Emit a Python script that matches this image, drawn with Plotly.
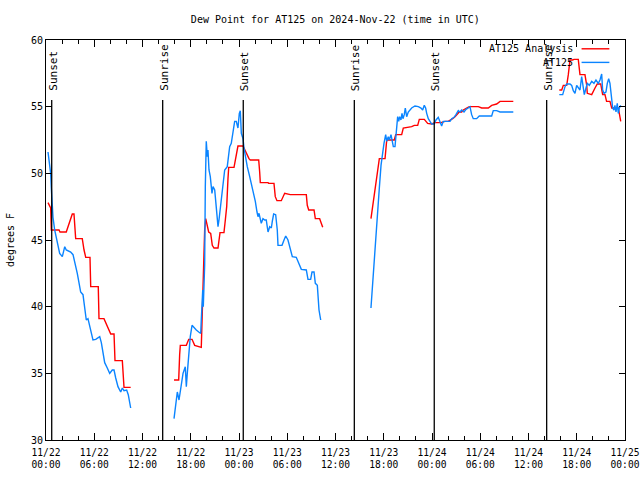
import plotly.graph_objects as go
import pandas as pd

BASE = "2024-11-22 00:00"
TITLE = "Dew Point for AT125 on 2024-Nov-22 (time in UTC)"

# ---- AT125 Analysis (red) : hours since 2024-11-22 00:00 UTC, dew point degF
ana_h1 = [0.25, 0.58, 0.66, 1.62, 1.74, 2.52, 3.27, 3.48, 3.69, 4.51, 4.73, 4.94, 5.47, 5.56, 6.50, 6.59,
          7.21, 7.42, 7.83, 8.05, 8.46, 8.58, 9.49, 9.70, 10.53]
ana_v1 = [47.8, 47.4, 45.75, 45.75, 45.6, 45.6, 46.95, 46.95, 45.1, 45.1, 44.25, 43.7, 43.7, 41.5, 41.5, 39.1,
          39.1, 38.8, 38.25, 37.95, 37.95, 35.95, 35.95, 33.95, 33.95]
ana_h2 = [15.92, 16.50, 16.62, 16.70, 17.45, 17.75, 18.16, 18.49, 19.31, 19.40, 19.56, 19.73, 19.86, 20.02,
          20.23, 20.48, 20.68, 20.89, 21.39, 21.64, 22.13, 22.30, 22.47, 22.63, 22.72, 23.38, 23.66, 23.87,
          24.50, 24.71, 24.91, 25.24, 25.40, 26.45, 26.57, 26.65, 27.61, 27.69, 28.35, 28.51, 28.72, 29.26,
          29.68, 30.38, 32.37, 32.49, 32.67, 33.33, 33.49, 34.03, 34.23, 34.41]
ana_v2 = [34.5, 34.5, 36.4, 37.1, 37.1, 37.55, 37.55, 37.1, 36.95, 39.0, 43.4, 45.75, 46.6, 46.25,
          45.6, 45.5, 44.6, 44.4, 44.4, 45.55, 45.55, 46.5, 47.5, 49.6, 50.45, 50.45, 51.4, 52.05,
          52.05, 51.75, 51.5, 51.1, 51.0, 51.0, 50.1, 49.3, 49.3, 49.25, 49.25, 48.25, 47.95, 47.95,
          48.5, 48.4, 48.4, 47.6, 47.25, 47.25, 46.6, 46.6, 46.25, 45.95]
ana_h3 = [40.41, 40.57, 40.70, 40.91, 41.13, 41.32, 41.45, 42.16, 42.24, 42.37, 43.31, 43.49, 44.23, 44.43,
          45.47, 45.80, 46.22, 46.42, 47.04, 47.46, 47.96, 48.37, 49.12, 49.61, 50.02, 50.32, 50.57, 50.86,
          51.14, 51.39, 51.69, 51.89, 52.31, 52.64, 53.76, 54.18, 55.00, 55.42, 56.04, 56.46, 58.11]
ana_v3 = [46.6, 47.25, 47.9, 48.75, 49.5, 50.6, 51.1, 51.1, 51.9, 52.5, 52.5, 52.9, 52.9, 53.4,
          53.5, 53.6, 53.6, 54.05, 54.05, 53.75, 53.7, 53.8, 53.8, 53.9, 53.9, 54.0, 54.1, 54.25,
          54.4, 54.6, 54.6, 54.75, 54.9, 55.0, 55.0, 54.9, 54.9, 55.1, 55.2, 55.4, 55.4]
ana_h4 = [63.83, 64.13, 64.33, 64.75, 64.95, 65.16, 65.49, 65.66, 66.19, 66.40, 67.02, 67.24, 67.31, 67.86,
          68.27, 68.55, 68.98, 69.22, 69.51, 69.71, 70.13, 70.35, 71.17, 71.36, 71.47]
ana_v4 = [56.25, 56.25, 56.6, 56.6, 57.4, 58.5, 58.5, 58.55, 58.55, 57.4, 57.4, 56.6, 56.0, 55.9,
          56.4, 56.7, 56.7, 55.9, 55.9, 55.4, 55.4, 54.9, 54.9, 54.4, 53.9]

# ---- AT125 observations (blue)
obs_h1 = [0.25, 0.58, 0.66, 0.87, 1.08, 1.28, 1.49, 1.70, 2.03, 2.33, 2.52, 3.07, 3.36, 3.69, 3.89, 4.10,
          4.31, 4.60, 4.81, 5.01, 5.22, 5.43, 5.63, 5.84, 6.18, 6.68, 6.88, 7.09, 7.30, 7.62, 7.92, 8.24,
          8.46, 8.67, 8.95, 9.29, 9.49, 9.70, 10.03, 10.23, 10.45, 10.53]
obs_v1 = [51.6, 50.0, 48.9, 46.7, 45.75, 45.2, 44.5, 44.0, 43.75, 44.5, 44.25, 44.1, 43.9, 43.1, 42.5, 41.8,
          41.1, 40.9, 39.9, 39.0, 39.1, 38.5, 38.0, 37.5, 37.55, 37.75, 37.3, 36.5, 35.8, 35.4, 35.0, 35.25,
          35.25, 34.65, 34.0, 33.6, 33.9, 33.7, 33.75, 33.4, 32.8, 32.4]
obs_h2 = [15.92, 16.08, 16.33, 16.54, 16.75, 17.04, 17.32, 17.45, 17.57, 17.75, 17.94, 18.16, 18.40, 18.69,
          18.99, 19.24, 19.31, 19.40, 19.49, 19.56, 19.65, 19.73, 19.81, 19.93, 20.06, 20.14, 20.27, 20.43,
          20.64, 20.77, 20.98, 21.18, 21.39, 21.51, 21.72, 21.92, 22.22, 22.54, 22.84, 23.04, 23.25, 23.46,
          23.66, 23.87, 24.04, 24.16, 24.29, 24.50, 24.62, 24.78, 25.03, 25.33, 25.62, 25.86, 26.03, 26.24,
          26.36, 26.49, 26.65, 26.77, 26.98, 27.20, 27.39, 27.61, 27.82, 28.02, 28.14, 28.31, 28.56, 28.76,
          28.85, 29.35, 29.60, 29.81, 30.09, 30.38, 30.63, 31.12, 31.34, 31.75, 32.37, 32.58, 32.91, 33.08,
          33.33, 33.49, 33.74, 33.95, 34.16]
obs_v2 = [31.6, 32.6, 33.6, 33.0, 33.75, 35.0, 35.5, 34.0, 35.0, 36.5, 37.75, 38.6, 38.4, 38.25,
          38.1, 38.0, 39.0, 40.25, 41.25, 40.0, 42.25, 43.1, 49.0, 52.4, 51.25, 51.75, 50.25, 49.75,
          48.5, 49.0, 48.75, 47.5, 46.0, 46.5, 47.75, 49.0, 50.25, 50.5, 52.0, 52.25, 53.25, 53.9,
          53.9, 53.4, 54.5, 54.7, 53.0, 52.6, 51.9, 51.25, 50.5, 49.75, 49.0, 48.5, 47.9, 47.1,
          46.75, 47.0, 46.6, 46.25, 46.6, 46.5, 46.5, 45.6, 46.0, 45.9, 46.4, 46.95, 46.9, 45.75,
          44.6, 44.6, 45.0, 45.3, 45.0, 44.4, 43.75, 43.7, 43.4, 42.8, 42.75, 42.05, 42.05, 42.6,
          42.6, 41.75, 41.6, 39.75, 39.0]
obs_h3 = [40.41, 40.57, 40.82, 41.03, 41.25, 41.45, 41.66, 41.82, 42.03, 42.24, 42.37, 42.56, 42.69, 42.90,
          43.06, 43.19, 43.40, 43.61, 43.73, 43.86, 43.98, 44.14, 44.27, 44.39, 44.55, 44.68, 44.85, 45.05,
          45.26, 45.47, 45.88, 46.30, 46.63, 46.84, 47.04, 47.21, 47.34, 47.54, 47.75, 47.96, 48.25, 48.50,
          48.78, 48.99, 49.20, 49.40, 49.74, 50.24, 50.45, 50.74, 50.98, 51.27, 51.48, 51.69, 51.98, 52.23,
          52.51, 52.72, 52.93, 53.13, 53.55, 53.88, 54.38, 55.42, 55.62, 56.04, 56.46, 58.11]
obs_v3 = [39.9, 41.4, 43.4, 45.4, 47.1, 48.9, 50.6, 51.5, 52.25, 52.9, 52.4, 52.75, 52.5, 52.9,
          52.4, 52.0, 52.0, 53.75, 54.25, 53.9, 54.25, 54.0, 54.5, 54.1, 54.4, 54.9, 54.25, 54.6,
          54.75, 54.9, 55.05, 55.0, 54.9, 54.75, 55.1, 54.9, 54.5, 54.1, 53.9, 53.7, 53.7, 54.0,
          54.2, 53.9, 53.55, 53.9, 53.9, 53.9, 54.1, 54.2, 54.4, 54.7, 54.6, 54.75, 54.6, 54.8,
          54.9, 55.0, 54.4, 54.1, 54.1, 54.3, 54.3, 54.3, 54.7, 54.7, 54.6, 54.6]
obs_h4 = [63.83, 64.25, 64.54, 64.75, 65.16, 65.37, 65.57, 65.78, 65.99, 66.19, 66.40, 66.61, 66.81, 66.94,
          67.15, 67.31, 67.56, 67.86, 68.14, 68.39, 68.68, 68.89, 69.10, 69.22, 69.39, 69.63, 69.80, 69.97,
          70.13, 70.29, 70.47, 70.63, 70.75, 70.88, 71.04, 71.17, 71.29, 71.47]
obs_v4 = [55.9, 55.9, 56.5, 56.7, 56.7, 56.6, 56.2, 56.0, 56.6, 56.4, 56.25, 57.25, 56.25, 55.9,
          56.4, 56.75, 56.6, 56.9, 56.75, 57.0, 56.75, 57.0, 57.45, 56.25, 56.0, 56.1, 56.75, 57.1,
          56.75, 56.0, 54.9, 54.75, 55.1, 54.6, 55.25, 54.5, 54.9, 55.1]

# ---- sunrise / sunset events (hours since base)
sun_h = [0.71, 14.51, 24.53, 38.34, 48.28, 62.26]
sun_lbl = ["Sunset", "Sunrise", "Sunset", "Sunrise", "Sunset", "Sunrise"]

SERIES_NAMES = ["AT125 Analysis", "AT125"]
COLORS = ["#ff0000", "#0a84ff"]

base = pd.Timestamp(BASE)


def join(hs, vs):
    xs, ys = [], []
    for h, v in zip(hs, vs):
        if xs:
            xs.append(None)
            ys.append(None)
        xs += list(base + pd.to_timedelta(h, unit="h"))
        ys += list(v)
    return xs, ys


ana_x, ana_y = join([ana_h1, ana_h2, ana_h3, ana_h4], [ana_v1, ana_v2, ana_v3, ana_v4])
obs_x, obs_y = join([obs_h1, obs_h2, obs_h3, obs_h4], [obs_v1, obs_v2, obs_v3, obs_v4])

FONT = "DejaVu Sans Mono"
fig = go.Figure()
fig.add_trace(go.Scatter(x=ana_x, y=ana_y, mode="lines", name=SERIES_NAMES[0],
                         line=dict(color=COLORS[0], width=1.4), showlegend=False))
fig.add_trace(go.Scatter(x=obs_x, y=obs_y, mode="lines", name=SERIES_NAMES[1],
                         line=dict(color=COLORS[1], width=1.4), showlegend=False))

LINE_TOP = 55.5
for h, lbl in zip(sun_h, sun_lbl):
    t = base + pd.to_timedelta(h, unit="h")
    fig.add_shape(type="line", x0=t, x1=t, y0=30, y1=LINE_TOP, xref="x", yref="y",
                  line=dict(color="black", width=1.3))
    fig.add_annotation(x=t, y=LINE_TOP, xref="x", yref="y", text=lbl, textangle=-90,
                       showarrow=False, xanchor="center", yanchor="bottom", yshift=7, xshift=1,
                       font=dict(family=FONT, size=11, color="black"))

# gnuplot-style legend: text, then line sample
for i, (nm, c) in enumerate(zip(SERIES_NAMES, COLORS)):
    yy = 0.978 - i * 0.034
    fig.add_annotation(x=0.913, y=yy, xref="paper", yref="paper", text=nm, showarrow=False,
                       xanchor="right", yanchor="middle", font=dict(family=FONT, size=10, color="black"))
    fig.add_shape(type="line", x0=0.925, x1=0.973, y0=yy, y1=yy, xref="paper", yref="paper",
                  line=dict(color=c, width=1.4))

fig.add_annotation(x=-0.062, y=0.5, xref="paper", yref="paper", text="degrees F", textangle=-90,
                   showarrow=False, xanchor="center", yanchor="middle",
                   font=dict(family=FONT, size=10, color="black"))

fig.update_layout(
    width=640, height=480,
    margin=dict(l=46, r=15, t=40, b=40, autoexpand=False),
    paper_bgcolor="white", plot_bgcolor="white",
    font=dict(family=FONT, size=10, color="black"),
    title=dict(text=TITLE, x=0.524, xanchor="center", y=0.96, yanchor="middle",
               font=dict(family=FONT, size=10, color="black")),
    showlegend=False,
)
fig.update_xaxes(
    type="date", range=["2024-11-22 00:00", "2024-11-25 00:00"], automargin=False,
    dtick=6 * 3600 * 1000, tick0="2024-11-22 00:00", tickformat="%m/%d<br>%H:%M",
    ticks="inside", ticklen=7, tickcolor="black", tickwidth=1, ticklabeloverflow="allow",
    ticklabelstandoff=3,
    minor=dict(dtick=2 * 3600 * 1000, ticks="inside", ticklen=4, tickcolor="black", showgrid=False),
    showline=True, linecolor="black", linewidth=1, mirror="allticks",
    showgrid=False, zeroline=False, tickfont=dict(family=FONT, size=9.6),
)
fig.update_yaxes(
    range=[30, 60], dtick=5, tick0=30, automargin=False,
    ticks="inside", ticklen=6, tickcolor="black", tickwidth=1,
    showline=True, linecolor="black", linewidth=1, mirror="allticks",
    showgrid=False, zeroline=False, tickfont=dict(family=FONT, size=10),
)

fig.write_html("out.html", config={"displayModeBar": False},
               post_script="document.body.style.margin='0px';")
